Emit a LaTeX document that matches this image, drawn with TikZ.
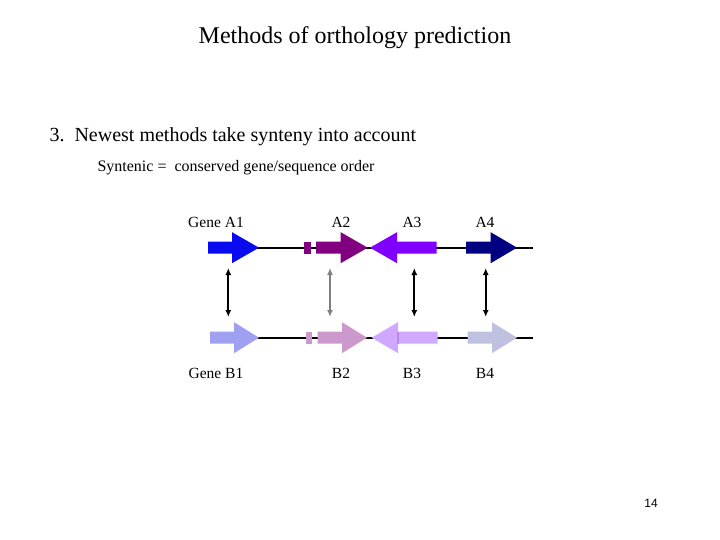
\documentclass[tikz,border=0pt]{standalone}
\usepackage{fontspec}
\setmainfont{Liberation Serif}
\newfontfamily\sansf{Liberation Sans}
\usetikzlibrary{arrows.meta}
\begin{document}
\begin{tikzpicture}[x=1pt,y=-1pt,
  lbl/.style={font=\fontsize{15.5}{18}\selectfont,inner sep=0pt},
  dbl/.style={{Latex[length=7pt,width=6pt]}-{Latex[length=7pt,width=6pt]},line width=1.8pt},
  bline/.style={line width=2pt}]
\useasboundingbox (0,0) rectangle (720,540);
\node[font=\fontsize{24}{28}\selectfont] (t) at (355,38) {Methods of orthology prediction};
\node[font=\fontsize{20}{24}\selectfont,anchor=west] (s) at (46,137) {3.\ \ Newest methods take synteny into account};
\node[font=\fontsize{16}{19}\selectfont,anchor=west] (s2) at (94,168) {Syntenic = \ conserved gene/sequence order};
\coordinate (la0) at (208,247.7); \coordinate (la1) at (533,247.7);
\coordinate (lb0) at (210,337.7); \coordinate (lb1) at (533,337.7);
\draw[bline] (la0) -- (la1);
\draw[bline] (lb0) -- (lb1);
\def\rarr#1#2#3#4#5{\fill[#1] (#2,#5-6) -- (#3,#5-6) -- (#3,#5-15.5) -- (#4,#5) -- (#3,#5+15.5) -- (#3,#5+6) -- (#2,#5+6) -- cycle;}
\definecolor{a1}{HTML}{0A0AF0}\definecolor{a2}{HTML}{800080}
\definecolor{a3}{HTML}{8000FF}\definecolor{a4}{HTML}{000080}
\definecolor{b1}{HTML}{A0A0F2}\definecolor{b2}{HTML}{CC99CC}
\definecolor{b3}{HTML}{D0A8FF}\definecolor{b4}{HTML}{C0C0E0}
\rarr{a1}{208}{232}{259}{247.7}
\fill[a2] (304,241.7) rectangle (310.7,253.7);
\rarr{a2}{316}{340.7}{367.7}{247.7}
\rarr{a3}{436.7}{397}{370}{247.7}
\rarr{a4}{466}{490.7}{517}{247.7}
\rarr{b1}{210}{234}{259}{337.7}
\fill[b2] (306,331.7) rectangle (312,343.7);
\rarr{b2}{317.7}{342}{367}{337.7}
\rarr{b3}{437.7}{398}{371.7}{337.7}
\fill[b3!80!violet] (396.5,331.7) rectangle (398.5,343.7);
\rarr{b4}{467.7}{492}{517}{337.7}
\foreach \n/\x/\c in {1/228.3/black,2/330/gray,3/414.3/black,4/485.7/black}{
  \coordinate (u\n) at (\x,268); \coordinate (d\n) at (\x,317);
  \draw[dbl,draw=\c] (u\n) -- (d\n);}
\node[lbl] (ga1) at (216,222) {Gene A1};
\node[lbl] (ga2) at (341,222) {A2};
\node[lbl] (ga3) at (412,222) {A3};
\node[lbl] (ga4) at (485,222) {A4};
\node[lbl] (gb1) at (216,373) {Gene B1};
\node[lbl] (gb2) at (341,373) {B2};
\node[lbl] (gb3) at (412,373) {B3};
\node[lbl] (gb4) at (485,373) {B4};
\node[font=\sansf\fontsize{12}{14}\selectfont] (pg) at (651,503) {14};
\end{tikzpicture}
\end{document}
